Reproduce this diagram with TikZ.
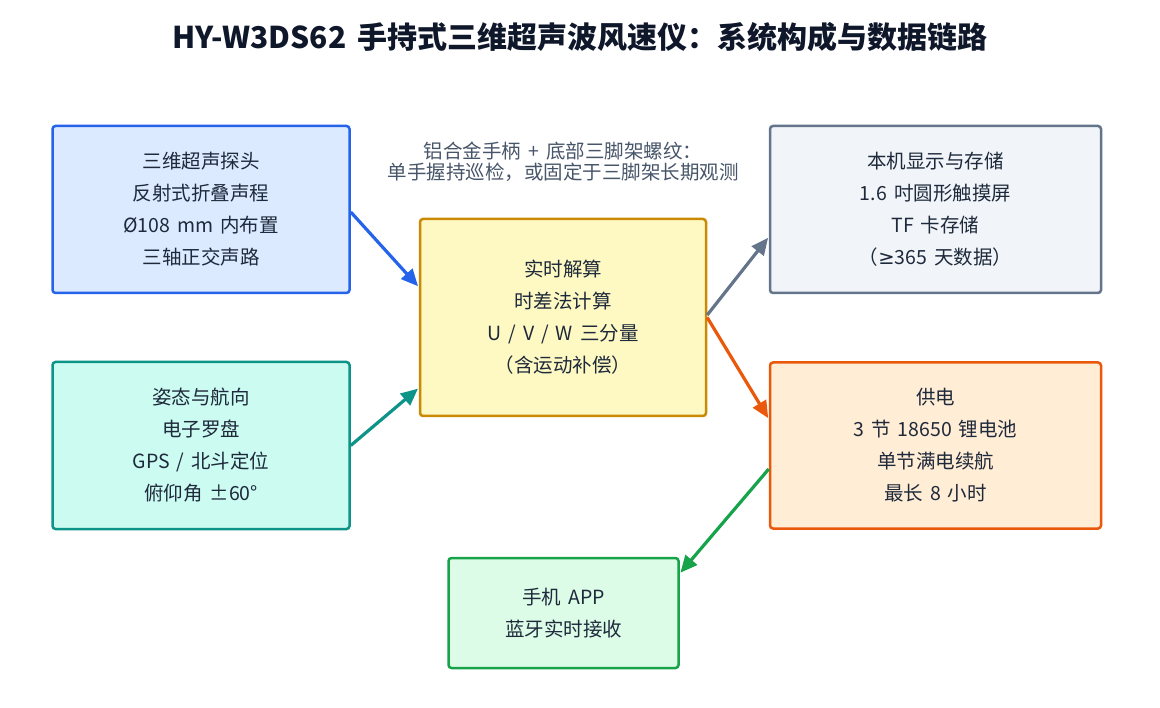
\documentclass[tikz,border=0pt]{standalone}
\usepackage{fontspec}
\setmainfont{Noto Sans CJK SC}[WordSpace=1.6]
\newfontfamily\symf{DejaVu Sans}
\usetikzlibrary{arrows.meta}
\definecolor{txt}{HTML}{1E293B}
\definecolor{ttl}{HTML}{0F172A}
\definecolor{note}{HTML}{475569}
\definecolor{bluB}{HTML}{2563EB}\definecolor{bluF}{HTML}{DBEAFE}
\definecolor{teaB}{HTML}{0D9488}\definecolor{teaF}{HTML}{CCFBF1}
\definecolor{yelB}{HTML}{CA8A04}\definecolor{yelF}{HTML}{FEF9C3}
\definecolor{gryB}{HTML}{64748B}\definecolor{gryF}{HTML}{F1F5F9}
\definecolor{orgB}{HTML}{EA580C}\definecolor{orgF}{HTML}{FFEDD5}
\definecolor{grnB}{HTML}{16A34A}\definecolor{grnF}{HTML}{DCFCE7}
\tikzset{
  box/.style={draw, line width=2.5pt, rounded corners=3pt, inner sep=0pt,
    align=center, text=txt, font=\fontsize{19.5}{32}\selectfont},
  conn/.style={line width=3.2pt, -{Triangle[length=17pt,width=15pt]}, shorten >=1pt},
}
\begin{document}
\begin{tikzpicture}[x=1pt,y=-1pt]
\useasboundingbox (0,0) rectangle (1160,708);
\node[font=\fontsize{30}{34}\selectfont\bfseries, text=ttl] (title) at (580,37)
  {HY-W3DS62 手持式三维超声波风速仪：系统构成与数据链路};
\node[align=center, text=note, font=\fontsize{19.5}{21}\selectfont] (ann) at (563,162)
  {铝合金手柄 + 底部三脚架螺纹：\\单手握持巡检，或固定于三脚架长期观测};
\node[box, draw=bluB, fill=bluF, minimum width=297pt, minimum height=167pt] (b1) at (201,209.5)
  {三维超声探头\\反射式折叠声程\\Ø108 mm 内布置\\三轴正交声路};
\node[box, draw=teaB, fill=teaF, minimum width=297pt, minimum height=167pt] (b2) at (201,445.5)
  {姿态与航向\\电子罗盘\\GPS / 北斗定位\\俯仰角 ±60°};
\node[box, draw=yelB, fill=yelF, minimum width=286pt, minimum height=197pt] (c) at (563,317.5)
  {实时解算\\时差法计算\\U / V / W 三分量\\（含运动补偿）};
\node[box, draw=gryB, fill=gryF, minimum width=331pt, minimum height=167pt] (g) at (935.5,209.5)
  {本机显示与存储\\1.6 吋圆形触摸屏\\TF 卡存储\\（{\symf ≥}365 天数据）};
\node[box, draw=orgB, fill=orgF, minimum width=331pt, minimum height=166pt] (o) at (935.5,445.5)
  {供电\\3 节 18650 锂电池\\单节满电续航\\最长 8 小时};
\node[box, draw=grnB, fill=grnF, minimum width=230pt, minimum height=110pt] (p) at (563.5,613)
  {手机 APP\\蓝牙实时接收};
\draw[conn, bluB] ([yshift=-2.5pt]b1.east) -- ([yshift=30.5pt]c.west);
\draw[conn, teaB] (b2.east) -- ([yshift=-70.5pt]c.west);
\draw[conn, gryB] ([yshift=2.5pt]c.east) -- ([yshift=-27.5pt]g.west);
\draw[conn, orgB] (c.east) -- ([yshift=26.5pt]o.west);
\draw[conn, grnB] ([yshift=-23.5pt]o.west) -- ([yshift=39.5pt]p.east);
\end{tikzpicture}
\end{document}
